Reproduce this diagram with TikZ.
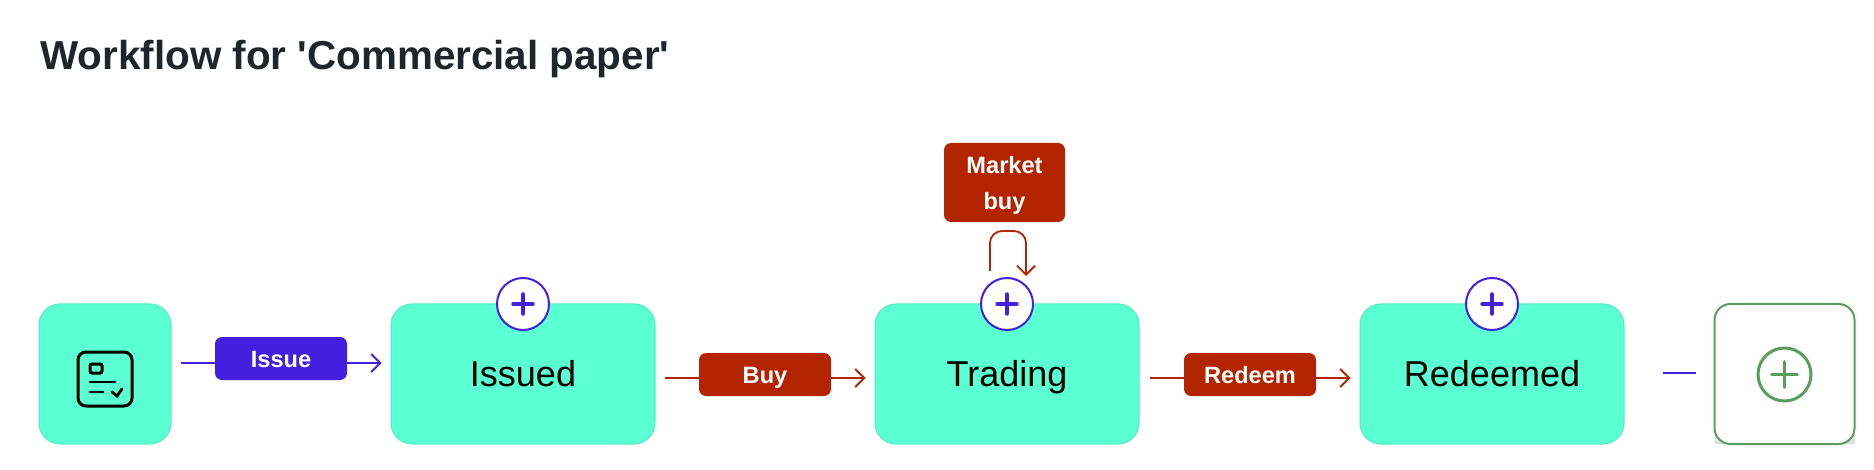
\documentclass[tikz,border=0pt]{standalone}
\usepackage{fontspec}
\setmainfont{Liberation Sans}
\usetikzlibrary{arrows.meta,positioning}
\definecolor{flowblue}{HTML}{431FE0}
\definecolor{flowred}{HTML}{B32400}
\definecolor{statefill}{HTML}{5AFFD2}
\definecolor{stateedge}{HTML}{52EBC4}
\definecolor{addgreen}{HTML}{5A9E5E}
\definecolor{titlegrey}{HTML}{212529}
\tikzset{
  state/.style={draw=stateedge,line width=0.5pt,fill=statefill,rounded corners=10.5pt,minimum width=132pt,minimum height=70pt,inner sep=0pt,text height=13pt,text depth=0.5pt,font=\fontsize{18}{20}\selectfont},
  plusnode/.style={circle,draw=flowblue,line width=1pt,fill=white,minimum size=26pt,inner sep=0pt},
  transition/.style={rounded corners=3.5pt,minimum width=66pt,minimum height=21.5pt,inner sep=0pt,text=white,font=\fontsize{11.8}{18}\bfseries\selectfont,align=center},
  flow/.style={line width=0.9pt,-{Straight Barb[length=4.5pt,width=9pt]}},
}
\begin{document}
\begin{tikzpicture}[x=0.5pt,y=-0.5pt]
\useasboundingbox (0,0) rectangle (1874,470);

\node [anchor=base west,inner sep=0pt,text=titlegrey,font=\fontsize{20.2}{24}\bfseries\selectfont] (title) at (40,70) {Workflow for \textquotesingle Commercial paper\textquotesingle};

% states
\node [state,minimum width=66pt] (start) at (105,374) {};
\node [state] (issued) at (523,374) {Issued};
\node [state] (trading) at (1007,374) {Trading};
\node [state] (redeemed) at (1492,374) {Redeemed};

% icon
\draw [line width=1.5pt,rounded corners=4pt] (78,352) rectangle (132,406);
\draw [line width=1.5pt,rounded corners=1pt] (90,364) rectangle (102,373);
\draw [line width=1.4pt,line cap=round] (90,382) -- (115,382);
\draw [line width=1.4pt,line cap=round] (90,392) -- (103,392);
\draw [line width=1.4pt,line cap=round] (112,392) -- (117,396) -- (122,389);

% add box
\fill [black!12] (1715,420) rectangle (1855,444);
\node [draw=addgreen,line width=1pt,fill=white,rounded corners=8pt,minimum width=70pt,minimum height=70pt,inner sep=0pt] (addbox) at (1784.5,374) {};
\node [circle,draw=addgreen,line width=1.5pt,minimum size=26.5pt,inner sep=0pt] (addcircle) at (1784.5,374.5) {};
\draw [addgreen,line width=1.3pt,line cap=round] ([xshift=-6.5pt]addcircle.center) -- ([xshift=6.5pt]addcircle.center);
\draw [addgreen,line width=1.3pt,line cap=round] ([yshift=-6.5pt]addcircle.center) -- ([yshift=6.5pt]addcircle.center);

% connectors
\coordinate (issueline) at (280,363);
\coordinate (buyline) at (765,378);
\coordinate (redeemline) at (1250,378);
\draw [flow,flowblue,shorten <=4.5pt,shorten >=4.5pt] (start.east |- issueline) -- (issued.west |- issueline);
\draw [flow,flowred,shorten <=4.5pt,shorten >=4.5pt] (issued.east |- buyline) -- (trading.west |- buyline);
\draw [flow,flowred,shorten <=5pt,shorten >=4.5pt] (trading.east |- redeemline) -- (redeemed.west |- redeemline);
\coordinate (dashend) at (1696,373);
\draw [flowblue,line width=0.9pt,shorten <=19pt] (redeemed.east |- dashend) -- (dashend);

% transitions
\node [transition,fill=flowblue,text height=8.5pt,text depth=0pt] (issue) at (281,358.5) {Issue};
\node [transition,fill=flowred,text height=8.5pt,text depth=0pt] (buy) at (765,374.5) {Buy};
\node [transition,fill=flowred,text height=8.5pt,text depth=0pt] (redeem) at (1250,374.5) {Redeem};
\node [transition,fill=flowred,minimum width=60.5pt,minimum height=39.5pt] (marketbuy) at (1004.5,182.5) {\rule{0pt}{11pt}Market\\buy};

% self loop
\coordinate (loopstart) at (990,271);
\coordinate (loopend) at (1026,276);
\draw [flow,flowred,rounded corners=6pt] (loopstart) -- (990,231) -- (1026,231) -- (loopend);

% plus buttons
\node [plusnode] (plusissued) at (523,304) {};
\node [plusnode] (plustrading) at (1007,304) {};
\node [plusnode] (plusredeemed) at (1492,304) {};
\foreach \plusname in {plusissued,plustrading,plusredeemed} {
  \draw [flowblue,line width=1.7pt,line cap=round] ([xshift=-5pt]\plusname.center) -- ([xshift=5pt]\plusname.center);
  \draw [flowblue,line width=1.7pt,line cap=round] ([yshift=-5pt]\plusname.center) -- ([yshift=5pt]\plusname.center);
}
\end{tikzpicture}
\end{document}
